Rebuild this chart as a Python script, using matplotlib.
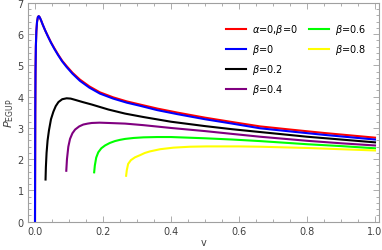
import matplotlib
matplotlib.use("Agg")
import matplotlib.pyplot as plt
from matplotlib.lines import Line2D
from matplotlib.ticker import MultipleLocator

# values
v_blue = [0, 0.0003, 0.0008, 0.0015, 0.0025, 0.004, 0.006, 0.0085, 0.011, 0.014, 0.018,
          0.023, 0.030, 0.038, 0.047, 0.057, 0.068, 0.080, 0.093, 0.110, 0.132, 0.16,
          0.191, 0.23, 0.27, 0.309, 0.36, 0.42, 0.5, 0.58, 0.662, 0.75, 0.85, 0.93, 1.0]
p_blue = [0, 1.5, 3.5, 4.8, 5.6, 6.1, 6.4, 6.55, 6.58, 6.54, 6.44,
          6.30, 6.12, 5.93, 5.73, 5.53, 5.33, 5.13, 4.95, 4.74, 4.51, 4.29,
          4.10, 3.94, 3.81, 3.71, 3.57, 3.44, 3.28, 3.14, 2.99, 2.89, 2.78, 2.70, 2.63]

v_red = v_blue
p_red = [0, 1.5, 3.5, 4.8, 5.6, 6.1, 6.4, 6.55, 6.58, 6.54, 6.44,
         6.30, 6.12, 5.94, 5.74, 5.55, 5.35, 5.15, 4.98, 4.77, 4.55, 4.33,
         4.14, 3.98, 3.85, 3.75, 3.62, 3.49, 3.33, 3.19, 3.05, 2.95, 2.84, 2.76, 2.69]

v_b02 = [0.031, 0.032, 0.034, 0.037, 0.041, 0.047, 0.054, 0.061, 0.069, 0.08, 0.093, 0.105,
         0.118, 0.14, 0.167, 0.216, 0.265, 0.319, 0.4, 0.5, 0.58, 0.662, 0.8, 0.9, 1.0]
p_b02 = [1.35, 1.75, 2.2, 2.6, 2.92, 3.28, 3.52, 3.7, 3.83, 3.92, 3.95, 3.94,
         3.9, 3.83, 3.75, 3.59, 3.46, 3.35, 3.2, 3.06, 2.96, 2.87, 2.72, 2.63, 2.54]

v_b04 = [0.092, 0.094, 0.098, 0.103, 0.11, 0.118, 0.13, 0.142, 0.155, 0.167, 0.19, 0.216,
         0.265, 0.319, 0.4, 0.5, 0.58, 0.662, 0.8, 0.9, 1.0]
p_b04 = [1.63, 2.0, 2.4, 2.65, 2.83, 2.95, 3.05, 3.11, 3.14, 3.16, 3.17, 3.16,
         3.14, 3.09, 3.0, 2.9, 2.81, 2.72, 2.59, 2.51, 2.44]

v_b06 = [0.174, 0.176, 0.18, 0.186, 0.195, 0.206, 0.22, 0.235, 0.25, 0.265, 0.29, 0.319,
         0.36, 0.4, 0.5, 0.58, 0.662, 0.8, 0.9, 1.0]
p_b06 = [1.58, 1.8, 2.05, 2.22, 2.35, 2.44, 2.52, 2.58, 2.62, 2.65, 2.68, 2.70,
         2.71, 2.71, 2.67, 2.63, 2.58, 2.48, 2.42, 2.35]

v_b08 = [0.268, 0.27, 0.274, 0.282, 0.294, 0.309, 0.323, 0.338, 0.368, 0.407, 0.456,
         0.505, 0.6, 0.662, 0.8, 0.9, 1.0]
p_b08 = [1.47, 1.65, 1.85, 1.97, 2.06, 2.13, 2.2, 2.25, 2.32, 2.37, 2.40,
         2.41, 2.41, 2.40, 2.36, 2.32, 2.28]

labels = [r"$\alpha$=0,$\beta$=0", r"$\beta$=0", r"$\beta$=0.2",
          r"$\beta$=0.4", r"$\beta$=0.6", r"$\beta$=0.8"]
colors = ["#ff0000", "#0000ff", "#000000", "#800080", "#00ff00", "#ffff00"]

plt.rcParams["mathtext.fontset"] = "dejavusans"

W, H = 382, 251
fig = plt.figure(figsize=(W / 100, H / 100), dpi=100)
ax = fig.add_axes([28 / W, 1 - 222.7 / H, (379 - 28) / W, (222.7 - 4) / H])

series = [(v_red, p_red), (v_blue, p_blue), (v_b02, p_b02),
          (v_b04, p_b04), (v_b06, p_b06), (v_b08, p_b08)]
handles = []
for (v, p), c, lab in zip(series, colors, labels):
    ln, = ax.plot(v, p, color=c, lw=1.5, label=lab)
    handles.append(ln)

ax.set_xlim(-0.0206, 1.0118)
ax.set_ylim(0, 7.0)

ax.xaxis.set_major_locator(MultipleLocator(0.2))
ax.xaxis.set_minor_locator(MultipleLocator(0.05))
ax.yaxis.set_major_locator(MultipleLocator(1))
ax.yaxis.set_minor_locator(MultipleLocator(0.2))
ax.xaxis.set_major_formatter(plt.FuncFormatter(lambda x, _: f"{x:.1f}"))

frame_col = "#a0a0a0"
for s in ax.spines.values():
    s.set_color(frame_col)
    s.set_linewidth(0.8)
ax.tick_params(which="both", direction="in", top=True, right=True,
               color=frame_col, labelcolor="#404040", labelsize=7, width=0.6)
ax.tick_params(which="major", length=4, pad=3)
ax.tick_params(which="minor", length=2)

ax.set_xlabel("v", fontsize=7, color="#404040", labelpad=1)
ax.set_ylabel(r"$P_{\mathrm{EGUP}}$", fontsize=8, color="#404040", labelpad=1)

# 4 entries in the first column, 2 in the second (pad with blank entries)
blank = Line2D([], [], lw=0, alpha=0)
leg_handles = handles + [blank, blank]
leg_labels = labels + ["", ""]
ax.legend(leg_handles, leg_labels, loc="upper left", bbox_to_anchor=(0.564, 0.912),
          ncol=2, frameon=False, fontsize=7, handlelength=2.1, labelspacing=0.62,
          columnspacing=1.1, handletextpad=0.6, borderaxespad=0, borderpad=0)

fig.savefig("out.png", dpi=100)
